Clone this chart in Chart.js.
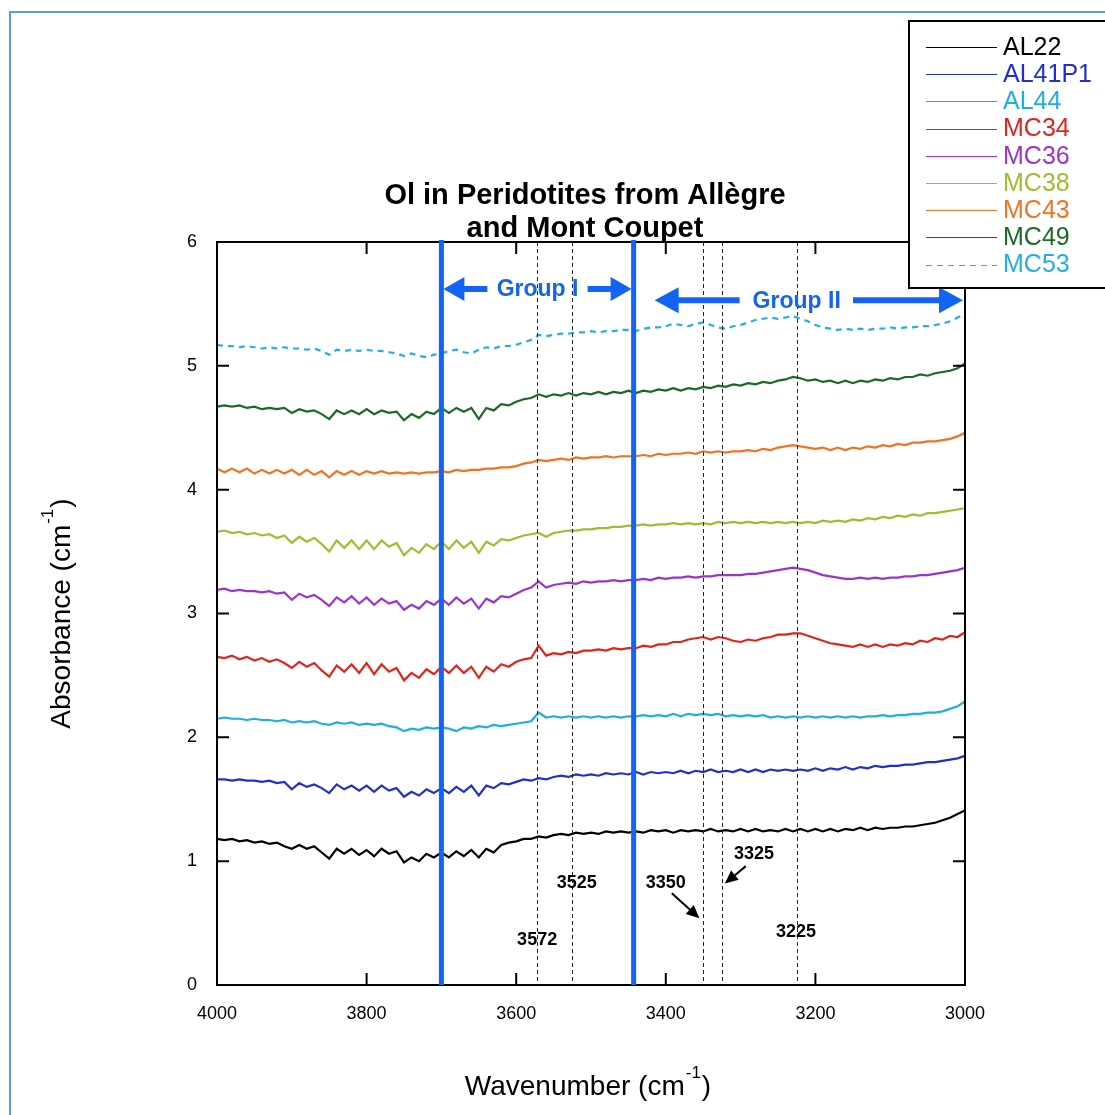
<!DOCTYPE html>
<html>
<head>
<meta charset="utf-8">
<title>Ol in Peridotites from Allègre and Mont Coupet</title>
<script src="https://cdn.jsdelivr.net/npm/chart.js@4.4.1/dist/chart.umd.min.js"></script>
<style>
    html, body { margin: 0; padding: 0; background: #fff; }
    #frame { position: absolute; left: 9px; top: 11px; width: 1200px; height: 1200px; border: 2px solid #5f9bd6; }
    #spectra { position: absolute; left: 0; top: 0; }
</style>
</head>
<body>
<div id="frame"></div>
<canvas id="spectra" width="1105" height="1115"></canvas>
<script>
const wavenumbers = [
    4000, 3990, 3980, 3970, 3960, 3950, 3940, 3930, 3920, 3910,
    3900, 3890, 3880, 3870, 3860, 3850, 3840, 3830, 3820, 3810,
    3800, 3790, 3780, 3770, 3760, 3750, 3740, 3730, 3720, 3710,
    3700, 3690, 3680, 3670, 3660, 3650, 3640, 3630, 3620, 3610,
    3600, 3590, 3580, 3570, 3560, 3550, 3540, 3530, 3520, 3510,
    3500, 3490, 3480, 3470, 3460, 3450, 3440, 3430, 3420, 3410,
    3400, 3390, 3380, 3370, 3360, 3350, 3340, 3330, 3320, 3310,
    3300, 3290, 3280, 3270, 3260, 3250, 3240, 3230, 3220, 3210,
    3200, 3190, 3180, 3170, 3160, 3150, 3140, 3130, 3120, 3110,
    3100, 3090, 3080, 3070, 3060, 3050, 3040, 3030, 3020, 3010,
    3000
];

const al22 = [
    1.18, 1.17, 1.18, 1.16, 1.17, 1.15, 1.16, 1.14, 1.15, 1.12,
    1.10, 1.13, 1.10, 1.12, 1.07, 1.02, 1.10, 1.06, 1.10, 1.05,
    1.09, 1.04, 1.10, 1.06, 1.08, 0.99, 1.03, 1.00, 1.06, 1.03,
    1.07, 1.03, 1.08, 1.04, 1.09, 1.03, 1.10, 1.07, 1.13, 1.15,
    1.16, 1.18, 1.18, 1.20, 1.19, 1.21, 1.22, 1.21, 1.23, 1.22,
    1.23, 1.22, 1.24, 1.23, 1.24, 1.23, 1.24, 1.23, 1.25, 1.24,
    1.25, 1.23, 1.25, 1.24, 1.25, 1.24, 1.26, 1.24, 1.25, 1.24,
    1.26, 1.24, 1.26, 1.24, 1.25, 1.24, 1.26, 1.24, 1.26, 1.24,
    1.26, 1.24, 1.26, 1.24, 1.26, 1.25, 1.27, 1.25, 1.27, 1.26,
    1.27, 1.27, 1.28, 1.28, 1.29, 1.30, 1.31, 1.33, 1.35, 1.38,
    1.41
];
const al41p1 = [
    1.66, 1.66, 1.65, 1.66, 1.65, 1.65, 1.64, 1.65, 1.63, 1.64,
    1.58, 1.63, 1.60, 1.62, 1.59, 1.55, 1.62, 1.58, 1.61, 1.57,
    1.61, 1.56, 1.61, 1.57, 1.59, 1.52, 1.56, 1.53, 1.58, 1.55,
    1.59, 1.55, 1.60, 1.56, 1.61, 1.53, 1.61, 1.59, 1.63, 1.62,
    1.64, 1.66, 1.65, 1.67, 1.66, 1.68, 1.69, 1.68, 1.70, 1.69,
    1.70, 1.69, 1.71, 1.70, 1.71, 1.70, 1.72, 1.70, 1.72, 1.71,
    1.72, 1.71, 1.73, 1.71, 1.73, 1.72, 1.74, 1.72, 1.73, 1.72,
    1.74, 1.72, 1.74, 1.72, 1.74, 1.73, 1.74, 1.73, 1.74, 1.73,
    1.75, 1.73, 1.75, 1.74, 1.76, 1.74, 1.76, 1.75, 1.77, 1.76,
    1.77, 1.77, 1.78, 1.78, 1.79, 1.80, 1.80, 1.81, 1.82, 1.83,
    1.85
];
const al44 = [
    2.15, 2.16, 2.15, 2.15, 2.14, 2.15, 2.14, 2.14, 2.13, 2.14,
    2.12, 2.13, 2.12, 2.13, 2.11, 2.10, 2.12, 2.11, 2.12, 2.10,
    2.11, 2.10, 2.11, 2.09, 2.08, 2.05, 2.07, 2.06, 2.08, 2.07,
    2.08, 2.07, 2.05, 2.08, 2.07, 2.09, 2.08, 2.10, 2.09, 2.10,
    2.11, 2.12, 2.13, 2.20, 2.16, 2.17, 2.16, 2.17, 2.16, 2.17,
    2.16, 2.17, 2.16, 2.17, 2.16, 2.17, 2.17, 2.18, 2.17, 2.18,
    2.17, 2.19, 2.17, 2.19, 2.18, 2.19, 2.18, 2.19, 2.17, 2.18,
    2.17, 2.18, 2.17, 2.18, 2.16, 2.17, 2.16, 2.17, 2.16, 2.17,
    2.16, 2.17, 2.16, 2.17, 2.16, 2.17, 2.16, 2.17, 2.17, 2.18,
    2.17, 2.18, 2.18, 2.19, 2.19, 2.20, 2.20, 2.21, 2.23, 2.25,
    2.29
];
const mc34 = [
    2.65, 2.64, 2.66, 2.63, 2.65, 2.62, 2.64, 2.61, 2.63, 2.60,
    2.56, 2.61, 2.57, 2.60, 2.54, 2.49, 2.58, 2.53, 2.59, 2.52,
    2.60, 2.51, 2.59, 2.53, 2.56, 2.46, 2.52, 2.48, 2.55, 2.51,
    2.57, 2.52, 2.58, 2.52, 2.57, 2.48, 2.57, 2.53, 2.59, 2.57,
    2.61, 2.63, 2.64, 2.74, 2.66, 2.68, 2.67, 2.69, 2.68, 2.70,
    2.70, 2.71, 2.70, 2.72, 2.71, 2.72, 2.72, 2.74, 2.73, 2.75,
    2.75, 2.77, 2.77, 2.79, 2.80, 2.81, 2.79, 2.81, 2.80, 2.78,
    2.77, 2.79, 2.78, 2.80, 2.81, 2.83, 2.83, 2.84, 2.84, 2.82,
    2.80, 2.78, 2.76, 2.75, 2.74, 2.73, 2.75, 2.73, 2.75, 2.73,
    2.75, 2.74, 2.76, 2.75, 2.78, 2.77, 2.80, 2.79, 2.82, 2.81,
    2.85
];
const mc36 = [
    3.19, 3.20, 3.18, 3.19, 3.18, 3.18, 3.17, 3.18, 3.16, 3.17,
    3.11, 3.16, 3.13, 3.15, 3.11, 3.06, 3.13, 3.09, 3.14, 3.08,
    3.13, 3.07, 3.12, 3.08, 3.10, 3.03, 3.07, 3.04, 3.10, 3.07,
    3.12, 3.07, 3.13, 3.08, 3.12, 3.04, 3.12, 3.09, 3.14, 3.13,
    3.16, 3.19, 3.21, 3.26, 3.21, 3.23, 3.24, 3.25, 3.24, 3.26,
    3.25, 3.26, 3.26, 3.27, 3.26, 3.27, 3.27, 3.28, 3.27, 3.29,
    3.28, 3.29, 3.29, 3.30, 3.29, 3.30, 3.30, 3.31, 3.31, 3.31,
    3.31, 3.32, 3.32, 3.33, 3.34, 3.35, 3.36, 3.37, 3.36, 3.35,
    3.33, 3.31, 3.30, 3.29, 3.28, 3.28, 3.29, 3.28, 3.29, 3.28,
    3.29, 3.29, 3.30, 3.30, 3.31, 3.31, 3.32, 3.33, 3.34, 3.35,
    3.37
];
const mc38 = [
    3.66, 3.67, 3.65, 3.66, 3.64, 3.65, 3.63, 3.64, 3.61, 3.63,
    3.57, 3.62, 3.58, 3.61, 3.56, 3.50, 3.59, 3.53, 3.59, 3.52,
    3.59, 3.52, 3.59, 3.54, 3.57, 3.47, 3.53, 3.49, 3.56, 3.52,
    3.58, 3.52, 3.59, 3.53, 3.58, 3.49, 3.58, 3.55, 3.60, 3.59,
    3.61, 3.63, 3.64, 3.65, 3.62, 3.65, 3.66, 3.67, 3.67, 3.68,
    3.68, 3.69, 3.69, 3.70, 3.70, 3.71, 3.71, 3.72, 3.71, 3.72,
    3.72, 3.73, 3.72, 3.73, 3.72, 3.73, 3.72, 3.74, 3.73, 3.74,
    3.73, 3.74, 3.73, 3.74, 3.73, 3.74, 3.73, 3.74, 3.73, 3.74,
    3.73, 3.75, 3.74, 3.75, 3.74, 3.76, 3.75, 3.77, 3.76, 3.78,
    3.77, 3.79, 3.78, 3.80, 3.79, 3.81, 3.81, 3.82, 3.83, 3.84,
    3.85
];
const mc43 = [
    4.17, 4.14, 4.17, 4.14, 4.17, 4.13, 4.16, 4.13, 4.16, 4.13,
    4.16, 4.12, 4.16, 4.12, 4.15, 4.10, 4.15, 4.12, 4.15, 4.12,
    4.15, 4.13, 4.15, 4.13, 4.14, 4.13, 4.14, 4.13, 4.14, 4.14,
    4.15, 4.14, 4.16, 4.15, 4.16, 4.16, 4.17, 4.17, 4.18, 4.18,
    4.19, 4.21, 4.22, 4.24, 4.23, 4.24, 4.25, 4.24, 4.26, 4.25,
    4.26, 4.26, 4.27, 4.26, 4.27, 4.27, 4.27, 4.28, 4.27, 4.29,
    4.28, 4.29, 4.29, 4.30, 4.29, 4.31, 4.30, 4.31, 4.30, 4.31,
    4.31, 4.32, 4.31, 4.33, 4.32, 4.34, 4.35, 4.36, 4.35, 4.34,
    4.33, 4.34, 4.32, 4.34, 4.32, 4.34, 4.33, 4.35, 4.34, 4.36,
    4.35, 4.37, 4.36, 4.38, 4.38, 4.39, 4.39, 4.40, 4.41, 4.43,
    4.46
];
const mc49 = [
    4.67, 4.68, 4.67, 4.68, 4.66, 4.67, 4.65, 4.66, 4.65, 4.66,
    4.62, 4.65, 4.63, 4.64, 4.61, 4.57, 4.64, 4.61, 4.64, 4.61,
    4.65, 4.61, 4.64, 4.62, 4.63, 4.56, 4.61, 4.58, 4.63, 4.61,
    4.66, 4.62, 4.66, 4.63, 4.66, 4.57, 4.66, 4.64, 4.69, 4.68,
    4.71, 4.73, 4.74, 4.77, 4.75, 4.77, 4.76, 4.78, 4.76, 4.78,
    4.77, 4.79, 4.77, 4.79, 4.78, 4.80, 4.78, 4.80, 4.79, 4.81,
    4.80, 4.82, 4.80, 4.82, 4.81, 4.83, 4.82, 4.84, 4.83, 4.85,
    4.84, 4.86, 4.85, 4.87, 4.86, 4.88, 4.89, 4.91, 4.90, 4.88,
    4.89, 4.87, 4.88, 4.86, 4.88, 4.86, 4.88, 4.87, 4.89, 4.88,
    4.90, 4.89, 4.91, 4.91, 4.93, 4.92, 4.94, 4.95, 4.96, 4.98,
    5.02
];
const mc53 = [
    5.17, 5.16, 5.16, 5.15, 5.16, 5.15, 5.14, 5.15, 5.14, 5.15,
    5.14, 5.14, 5.13, 5.14, 5.12, 5.09, 5.13, 5.12, 5.13, 5.12,
    5.13, 5.12, 5.12, 5.11, 5.10, 5.08, 5.10, 5.08, 5.07, 5.09,
    5.10, 5.12, 5.13, 5.11, 5.10, 5.13, 5.15, 5.14, 5.16, 5.16,
    5.17, 5.19, 5.21, 5.25, 5.24, 5.25, 5.26, 5.26, 5.27, 5.27,
    5.28, 5.27, 5.28, 5.28, 5.29, 5.29, 5.28, 5.30, 5.31, 5.31,
    5.32, 5.34, 5.33, 5.32, 5.34, 5.35, 5.33, 5.31, 5.30, 5.32,
    5.33, 5.35, 5.37, 5.38, 5.39, 5.38, 5.39, 5.40, 5.38, 5.36,
    5.33, 5.31, 5.30, 5.29, 5.30, 5.29, 5.30, 5.29, 5.30, 5.30,
    5.31, 5.30, 5.31, 5.31, 5.32, 5.32, 5.33, 5.34, 5.36, 5.39,
    5.42
];

const sampleNames = ["AL22", "AL41P1", "AL44", "MC34", "MC36", "MC38", "MC43", "MC49", "MC53"];
const sampleValues = [al22, al41p1, al44, mc34, mc36, mc38, mc43, mc49, mc53];
const sampleColors = ["#000000", "#1f30cf", "#1eaee2", "#e2231a", "#9a33d3", "#9dbf2f", "#f27222", "#1b6a24", "#22aee6"];

// group boundaries (thick blue) and OH band positions (dashed)
const groupBounds = [3700, 3443];
const bandPositions = [3572, 3525, 3350, 3325, 3225];

const fontFamily = "'Liberation Sans', Arial, Helvetica, sans-serif";
const groupBlue = "#1264f2";

function drawBlockArrow(ctx, xTail, xTip, y, shaft, headLen, headHalf) {
    const dir = xTip > xTail ? 1 : -1;
    const xBase = xTip - dir * headLen;
    ctx.beginPath();
    ctx.moveTo(xTail, y - shaft / 2);
    ctx.lineTo(xBase, y - shaft / 2);
    ctx.lineTo(xBase, y - headHalf);
    ctx.lineTo(xTip, y);
    ctx.lineTo(xBase, y + headHalf);
    ctx.lineTo(xBase, y + shaft / 2);
    ctx.lineTo(xTail, y + shaft / 2);
    ctx.closePath();
    ctx.fill();
}

function drawLineArrow(ctx, x1, y1, x2, y2) {
    const ang = Math.atan2(y2 - y1, x2 - x1);
    const len = 13, half = 6;
    const bx = x2 - Math.cos(ang) * len, by = y2 - Math.sin(ang) * len;
    ctx.beginPath();
    ctx.moveTo(x1, y1);
    ctx.lineTo(bx, by);
    ctx.stroke();
    ctx.beginPath();
    ctx.moveTo(x2, y2);
    ctx.lineTo(bx - Math.sin(ang) * half, by + Math.cos(ang) * half);
    ctx.lineTo(bx + Math.sin(ang) * half, by - Math.cos(ang) * half);
    ctx.closePath();
    ctx.fill();
}

function drawSupText(ctx, base, sup, tail, size) {
    // text with a "-1" superscript, centred on the current origin
    ctx.font = size + "px " + fontFamily;
    const w1 = ctx.measureText(base).width;
    const w3 = ctx.measureText(tail).width;
    ctx.font = Math.round(size * 0.6) + "px " + fontFamily;
    const w2 = ctx.measureText(sup).width + 2;
    let x = -(w1 + w2 + w3) / 2;
    ctx.textAlign = "left";
    ctx.textBaseline = "alphabetic";
    ctx.font = size + "px " + fontFamily;
    ctx.fillText(base, x, 0);
    ctx.font = Math.round(size * 0.6) + "px " + fontFamily;
    ctx.fillText(sup, x + w1 + 1, -size * 0.62);
    ctx.font = size + "px " + fontFamily;
    ctx.fillText(tail, x + w1 + w2, 0);
}

const decorations = {
    id: "decorations",
    afterDraw(chart) {
        const { ctx, chartArea: area, scales: { x, y } } = chart;
        ctx.save();

        // dashed band lines
        ctx.strokeStyle = "#222";
        ctx.lineWidth = 1;
        ctx.setLineDash([4, 3]);
        bandPositions.forEach(w => {
            const px = Math.round(x.getPixelForValue(w)) + 0.5;
            ctx.beginPath();
            ctx.moveTo(px, area.top);
            ctx.lineTo(px, area.bottom);
            ctx.stroke();
        });
        ctx.setLineDash([]);

        // frame with inward ticks
        ctx.strokeStyle = "#000";
        ctx.lineWidth = 2;
        ctx.strokeRect(area.left, area.top, area.right - area.left, area.bottom - area.top);
        ctx.beginPath();
        x.ticks.forEach(t => {
            const px = x.getPixelForValue(t.value);
            ctx.moveTo(px, area.bottom); ctx.lineTo(px, area.bottom - 12);
            ctx.moveTo(px, area.top); ctx.lineTo(px, area.top + 12);
        });
        y.ticks.forEach(t => {
            const py = y.getPixelForValue(t.value);
            ctx.moveTo(area.left, py); ctx.lineTo(area.left + 12, py);
            ctx.moveTo(area.right, py); ctx.lineTo(area.right - 12, py);
        });
        ctx.stroke();

        // group boundaries
        ctx.strokeStyle = groupBlue;
        ctx.lineWidth = 5;
        groupBounds.forEach(w => {
            const px = x.getPixelForValue(w);
            ctx.beginPath();
            ctx.moveTo(px, area.top - 2);
            ctx.lineTo(px, area.bottom);
            ctx.stroke();
        });

        // group arrows and labels
        const g1 = x.getPixelForValue(groupBounds[0]);
        const g2 = x.getPixelForValue(groupBounds[1]);
        ctx.fillStyle = groupBlue;
        const yI = y.getPixelForValue(5.62);
        drawBlockArrow(ctx, g1 + 46, g1 + 2, yI, 6, 21, 12);
        drawBlockArrow(ctx, g2 - 46, g2 - 2, yI, 6, 21, 12);
        const yII = y.getPixelForValue(5.53);
        drawBlockArrow(ctx, g2 + 106, g2 + 21, yII, 6, 24, 13);
        drawBlockArrow(ctx, area.right - 112, area.right - 2, yII, 6, 24, 13);
        ctx.font = "bold 23px " + fontFamily;
        ctx.textAlign = "center";
        ctx.textBaseline = "middle";
        ctx.fillText("Group I", (g1 + g2) / 2, yI + 1);
        ctx.fillText("Group II", x.getPixelForValue(3225), yII + 1);

        // band labels
        ctx.fillStyle = "#000";
        ctx.font = "bold 18px " + fontFamily;
        const bandLabels = [
            { text: "3572", w: 3572, a: 0.36 },
            { text: "3525", w: 3519, a: 0.82 },
            { text: "3350", w: 3400, a: 0.82 },
            { text: "3325", w: 3282, a: 1.06 },
            { text: "3225", w: 3226, a: 0.43 }
        ];
        bandLabels.forEach(l => ctx.fillText(l.text, x.getPixelForValue(l.w), y.getPixelForValue(l.a)));
        ctx.lineWidth = 2;
        ctx.strokeStyle = "#000";
        drawLineArrow(ctx, x.getPixelForValue(3392), y.getPixelForValue(0.74), x.getPixelForValue(3355), y.getPixelForValue(0.54));
        drawLineArrow(ctx, x.getPixelForValue(3293), y.getPixelForValue(0.96), x.getPixelForValue(3321), y.getPixelForValue(0.82));

        // title
        ctx.font = "bold 29px " + fontFamily;
        ctx.textAlign = "center";
        ctx.textBaseline = "middle";
        const cx = (area.left + area.right) / 2 - 6;
        ctx.fillText("Ol in Peridotites from Allègre", cx, 196);
        ctx.fillText("and Mont Coupet", cx, 229);

        // axis titles
        ctx.save();
        ctx.translate((area.left + area.right) / 2 - 3, 1095);
        drawSupText(ctx, "Wavenumber (cm", "-1", ")", 28);
        ctx.restore();
        ctx.save();
        ctx.translate(70, (area.top + area.bottom) / 2);
        ctx.rotate(-Math.PI / 2);
        drawSupText(ctx, "Absorbance (cm", "-1", ")", 28);
        ctx.restore();

        // legend box
        ctx.fillStyle = "#fff";
        ctx.fillRect(909, 21, 300, 267);
        ctx.strokeStyle = "#000";
        ctx.lineWidth = 2;
        ctx.strokeRect(909, 21, 300, 267);
        ctx.font = "25px " + fontFamily;
        ctx.textAlign = "left";
        ctx.textBaseline = "middle";
        chart.data.datasets.forEach((ds, i) => {
            const ly = 47 + i * 27.2;
            ctx.strokeStyle = ds.borderColor;
            ctx.lineWidth = 1;
            ctx.setLineDash(ds.borderDash || []);
            ctx.beginPath();
            ctx.moveTo(926, Math.round(ly) + 0.5);
            ctx.lineTo(997, Math.round(ly) + 0.5);
            ctx.stroke();
            ctx.setLineDash([]);
            ctx.fillStyle = ds.borderColor;
            ctx.fillText(ds.label, 1003, ly + 1);
        });

        ctx.restore();
    }
};

const ctx = document.getElementById("spectra").getContext("2d");
const spectraChart = new Chart(ctx, {
    type: "line",
    data: {
        datasets: sampleNames.map((name, i) => ({
            label: name,
            data: sampleValues[i].map((v, j) => ({ x: wavenumbers[j], y: v })),
            borderColor: sampleColors[i],
            borderWidth: 2.2,
            borderDash: name === "MC53" ? [6, 5] : undefined,
            pointRadius: 0,
            tension: 0,
            fill: false
        }))
    },
    options: {
        responsive: false,
        animation: false,
        layout: { padding: { top: 242, right: 140, left: 0, bottom: 0 } },
        plugins: {
            legend: { display: false },
            tooltip: { enabled: false }
        },
        scales: {
            x: {
                type: "linear",
                min: 3000,
                max: 4000,
                reverse: true,
                afterFit: s => { s.height = 130; },
                grid: { display: false, drawTicks: false },
                border: { display: false },
                ticks: {
                    stepSize: 200,
                    padding: 18,
                    maxRotation: 0,
                    color: "#000",
                    font: { family: fontFamily, size: 18 },
                    callback: v => String(v)
                }
            },
            y: {
                min: 0,
                max: 6,
                afterFit: s => { s.width = 217; },
                grid: { display: false, drawTicks: false },
                border: { display: false },
                ticks: {
                    stepSize: 1,
                    padding: 20,
                    color: "#000",
                    font: { family: fontFamily, size: 18 },
                    callback: v => String(v)
                }
            }
        }
    },
    plugins: [decorations]
});
</script>
</body>
</html>
